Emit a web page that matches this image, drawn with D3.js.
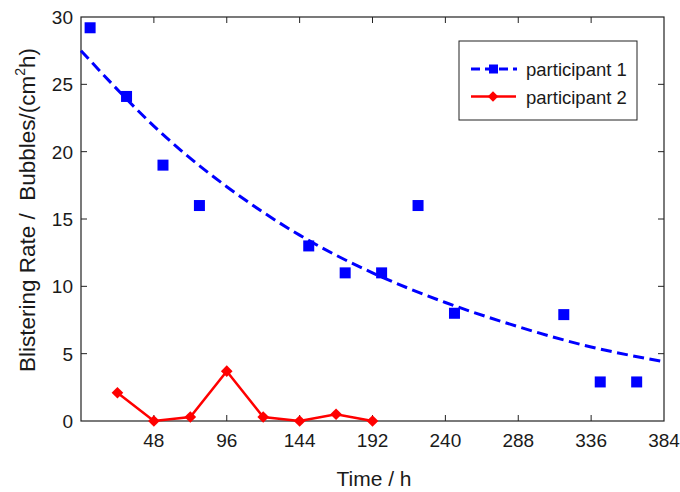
<!DOCTYPE html>
<html><head><meta charset="utf-8">
<script src="https://cdn.jsdelivr.net/npm/d3@7"></script>
<style>
body{margin:0;background:#fff;}
svg{display:block;font-family:"Liberation Sans",Arial,sans-serif;}
</style></head>
<body><svg id="chart" width="680" height="492"></svg>
<script>
// Data
const p1Time = [6, 30, 54, 78, 150, 174, 198, 222, 246, 318, 342, 366];
const p1Rate = [29.2, 24.1, 19.0, 16.0, 13.0, 11.0, 11.0, 16.0, 8.0, 7.9, 2.9, 2.9];
const p2Time = [24, 48, 72, 96, 120, 144, 168, 192];
const p2Rate = [2.1, 0, 0.3, 3.7, 0.3, 0, 0.5, 0];
// fit curve for participant 1
const fitTime = [0, 48, 96, 144, 192, 240, 288, 336, 384];
const fitRate = [27.5, 21.9, 17.4, 13.8, 11.0, 8.8, 7.0, 5.5, 4.4];
const xTicks = [48, 96, 144, 192, 240, 288, 336, 384];
const yTicks = [0, 5, 10, 15, 20, 25, 30];
const seriesNames = ["participant 1", "participant 2"];

const svg = d3.select("#chart");
const L = 81, R = 664, T = 17, B = 421;
const x = d3.scaleLinear().domain([0, 384]).range([L, R]);
const y = d3.scaleLinear().domain([0, 30]).range([B, T]);
const txt = "#1a1a1a";

// frame
svg.append("rect").attr("x", L).attr("y", T).attr("width", R - L).attr("height", B - T)
  .attr("fill", "none").attr("stroke", "#222").attr("stroke-width", 1.2);

// ticks (inward, all sides)
const tl = 6;
const g = svg.append("g").attr("stroke", "#222").attr("stroke-width", 1);
xTicks.filter(t => t < 384).forEach(t => {
  g.append("line").attr("x1", x(t)).attr("x2", x(t)).attr("y1", B).attr("y2", B - tl);
  g.append("line").attr("x1", x(t)).attr("x2", x(t)).attr("y1", T).attr("y2", T + tl);
});
yTicks.filter(t => t > 0 && t < 30).forEach(t => {
  g.append("line").attr("x1", L).attr("x2", L + tl).attr("y1", y(t)).attr("y2", y(t));
  g.append("line").attr("x1", R).attr("x2", R - tl).attr("y1", y(t)).attr("y2", y(t));
});

// tick labels
svg.append("g").selectAll("text").data(xTicks).join("text")
  .attr("x", d => x(d)).attr("y", 447).attr("text-anchor", "middle")
  .attr("font-size", 19).attr("fill", txt).text(d => d);
svg.append("g").selectAll("text").data(yTicks).join("text")
  .attr("x", 73).attr("y", d => y(d) + 7).attr("text-anchor", "end")
  .attr("font-size", 19).attr("fill", txt).text(d => d);

// axis titles
svg.append("text").attr("x", 374).attr("y", 486).attr("text-anchor", "middle")
  .attr("font-size", 21).attr("fill", txt).text("Time / h");
const yt = svg.append("text").attr("transform", "translate(35,210) rotate(-90)")
  .attr("text-anchor", "middle").attr("font-size", 22.5).attr("fill", txt)
  .style("white-space", "pre");
yt.append("tspan").text("Blistering Rate /  Bubbles/(cm");
yt.append("tspan").attr("font-size", 14).attr("dy", -10).text("2");
yt.append("tspan").attr("dy", 10).text("h)");

// fit curve
const fitLine = d3.line().x((d, i) => x(fitTime[i])).y(d => y(d)).curve(d3.curveNatural);
svg.append("path").attr("d", fitLine(fitRate)).attr("fill", "none")
  .attr("stroke", "#0000ff").attr("stroke-width", 3).attr("stroke-dasharray", "11,5.5");

// participant 1 squares
const sq = 11;
svg.append("g").selectAll("rect").data(p1Rate).join("rect")
  .attr("x", (d, i) => x(p1Time[i]) - sq / 2).attr("y", d => y(d) - sq / 2)
  .attr("width", sq).attr("height", sq).attr("fill", "#0000ff");

// participant 2 line + diamonds
const p2Line = d3.line().x((d, i) => x(p2Time[i])).y(d => y(d));
svg.append("path").attr("d", p2Line(p2Rate)).attr("fill", "none")
  .attr("stroke", "#ff0000").attr("stroke-width", 2.5);
svg.append("g").selectAll("path").data(p2Rate).join("path")
  .attr("transform", (d, i) => `translate(${x(p2Time[i])},${y(d)}) rotate(45)`)
  .attr("d", d3.symbol().type(d3.symbolSquare).size(68)).attr("fill", "#ff0000");

// legend
const lg = svg.append("g");
lg.append("rect").attr("x", 459).attr("y", 41).attr("width", 178).attr("height", 79)
  .attr("fill", "#fff").attr("stroke", "#222").attr("stroke-width", 1);
lg.append("line").attr("x1", 471).attr("x2", 517).attr("y1", 69).attr("y2", 69)
  .attr("stroke", "#0000ff").attr("stroke-width", 3).attr("stroke-dasharray", "9,5");
lg.append("rect").attr("x", 489).attr("y", 64.5).attr("width", 9).attr("height", 9).attr("fill", "#0000ff");
lg.append("line").attr("x1", 471).attr("x2", 516).attr("y1", 96.5).attr("y2", 96.5)
  .attr("stroke", "#ff0000").attr("stroke-width", 2.5);
lg.append("path").attr("transform", "translate(493,96.5) rotate(45)")
  .attr("d", d3.symbol().type(d3.symbolSquare).size(55)).attr("fill", "#ff0000");
lg.selectAll("text.lt").data(seriesNames).join("text").attr("class", "lt")
  .attr("x", 526).attr("y", (d, i) => 76 + i * 27.5)
  .attr("font-size", 18.5).attr("fill", txt).text(d => d);
</script></body></html>
